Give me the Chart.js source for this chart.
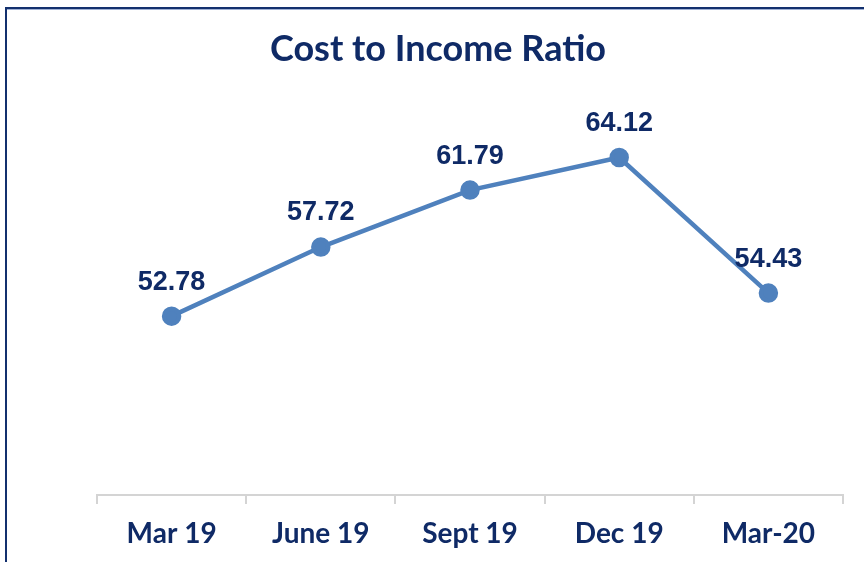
<!DOCTYPE html>
<html>
<head>
<meta charset="utf-8">
<script src="https://cdn.jsdelivr.net/npm/chart.js@4"></script>
<style>
  html, body { margin: 0; padding: 0; background: #fff; }
  #wrap { position: relative; width: 864px; height: 562px; overflow: hidden; }
  #frame {
    position: absolute; left: 5px; top: 7px; width: 900px; height: 600px;
    border-left: 2px solid #13306e; border-top: 2px solid #13306e;
    box-shadow: 0 1px 0 #9fb0d4 inset;
  }
  canvas { position: absolute; left: 0; top: 0; }
</style>
</head>
<body>
<div id="wrap">
  <div id="frame"></div>
  <canvas id="chart" width="864" height="562"></canvas>
</div>
<script>
// Данные графика
const periods = ['Mar 19', 'June 19', 'Sept 19', 'Dec 19', 'Mar-20'];
const ratios = [52.78, 57.72, 61.79, 64.12, 54.43];

const navy = '#0f2a66';
const lineBlue = '#4f81bd';

// Подписи значений над точками
const valueLabels = {
  id: 'valueLabels',
  afterDatasetsDraw(chart) {
    const ctx = chart.ctx;
    const meta = chart.getDatasetMeta(0);
    ctx.save();
    ctx.font = 'bold 27px "Liberation Sans", Arial, sans-serif';
    ctx.fillStyle = navy;
    ctx.textAlign = 'center';
    ctx.textBaseline = 'middle';
    meta.data.forEach((pt, i) => {
      ctx.fillText(ratios[i].toFixed(2), pt.x, pt.y - 34);
    });
    ctx.restore();
  }
};

// Пустые оси только для отступов слева и справа
const spacer = (w, pos) => ({
  position: pos,
  display: true,
  grid: { display: false },
  border: { display: false },
  ticks: { display: false },
  afterFit: (scale) => { scale.width = w; }
});

new Chart(document.getElementById('chart'), {
  type: 'line',
  data: {
    labels: periods,
    datasets: [{
      data: ratios,
      borderColor: lineBlue,
      backgroundColor: lineBlue,
      borderWidth: 4.5,
      pointRadius: 7.5,
      pointHoverRadius: 7.5,
      tension: 0
    }]
  },
  options: {
    responsive: false,
    animation: false,
    layout: { padding: { left: 12, right: 0, top: 28, bottom: 11 } },
    plugins: {
      legend: { display: false },
      tooltip: { enabled: false },
      title: {
        display: true,
        text: 'Cost to Income Ratio',
        color: navy,
        font: { family: 'Lato, "DejaVu Sans", sans-serif', size: 36, weight: 'bold' },
        padding: { top: 0, bottom: 4 }
      }
    },
    scales: {
      x: {
        offset: true,
        grid: {
          offset: true,
          drawOnChartArea: false,
          color: '#d4d4d4',
          lineWidth: 2,
          tickLength: 9
        },
        border: { color: '#d4d4d4', width: 2 },
        ticks: {
          color: navy,
          padding: 13,
          font: { family: 'Lato, "DejaVu Sans", sans-serif', size: 28, weight: 'bold' }
        },
        afterFit: (scale) => { scale.height = 56; }
      },
      y: Object.assign(spacer(85, 'left'), { min: 40, max: 70 }),
      y2: spacer(21, 'right')
    }
  },
  plugins: [valueLabels]
});
</script>
</body>
</html>
